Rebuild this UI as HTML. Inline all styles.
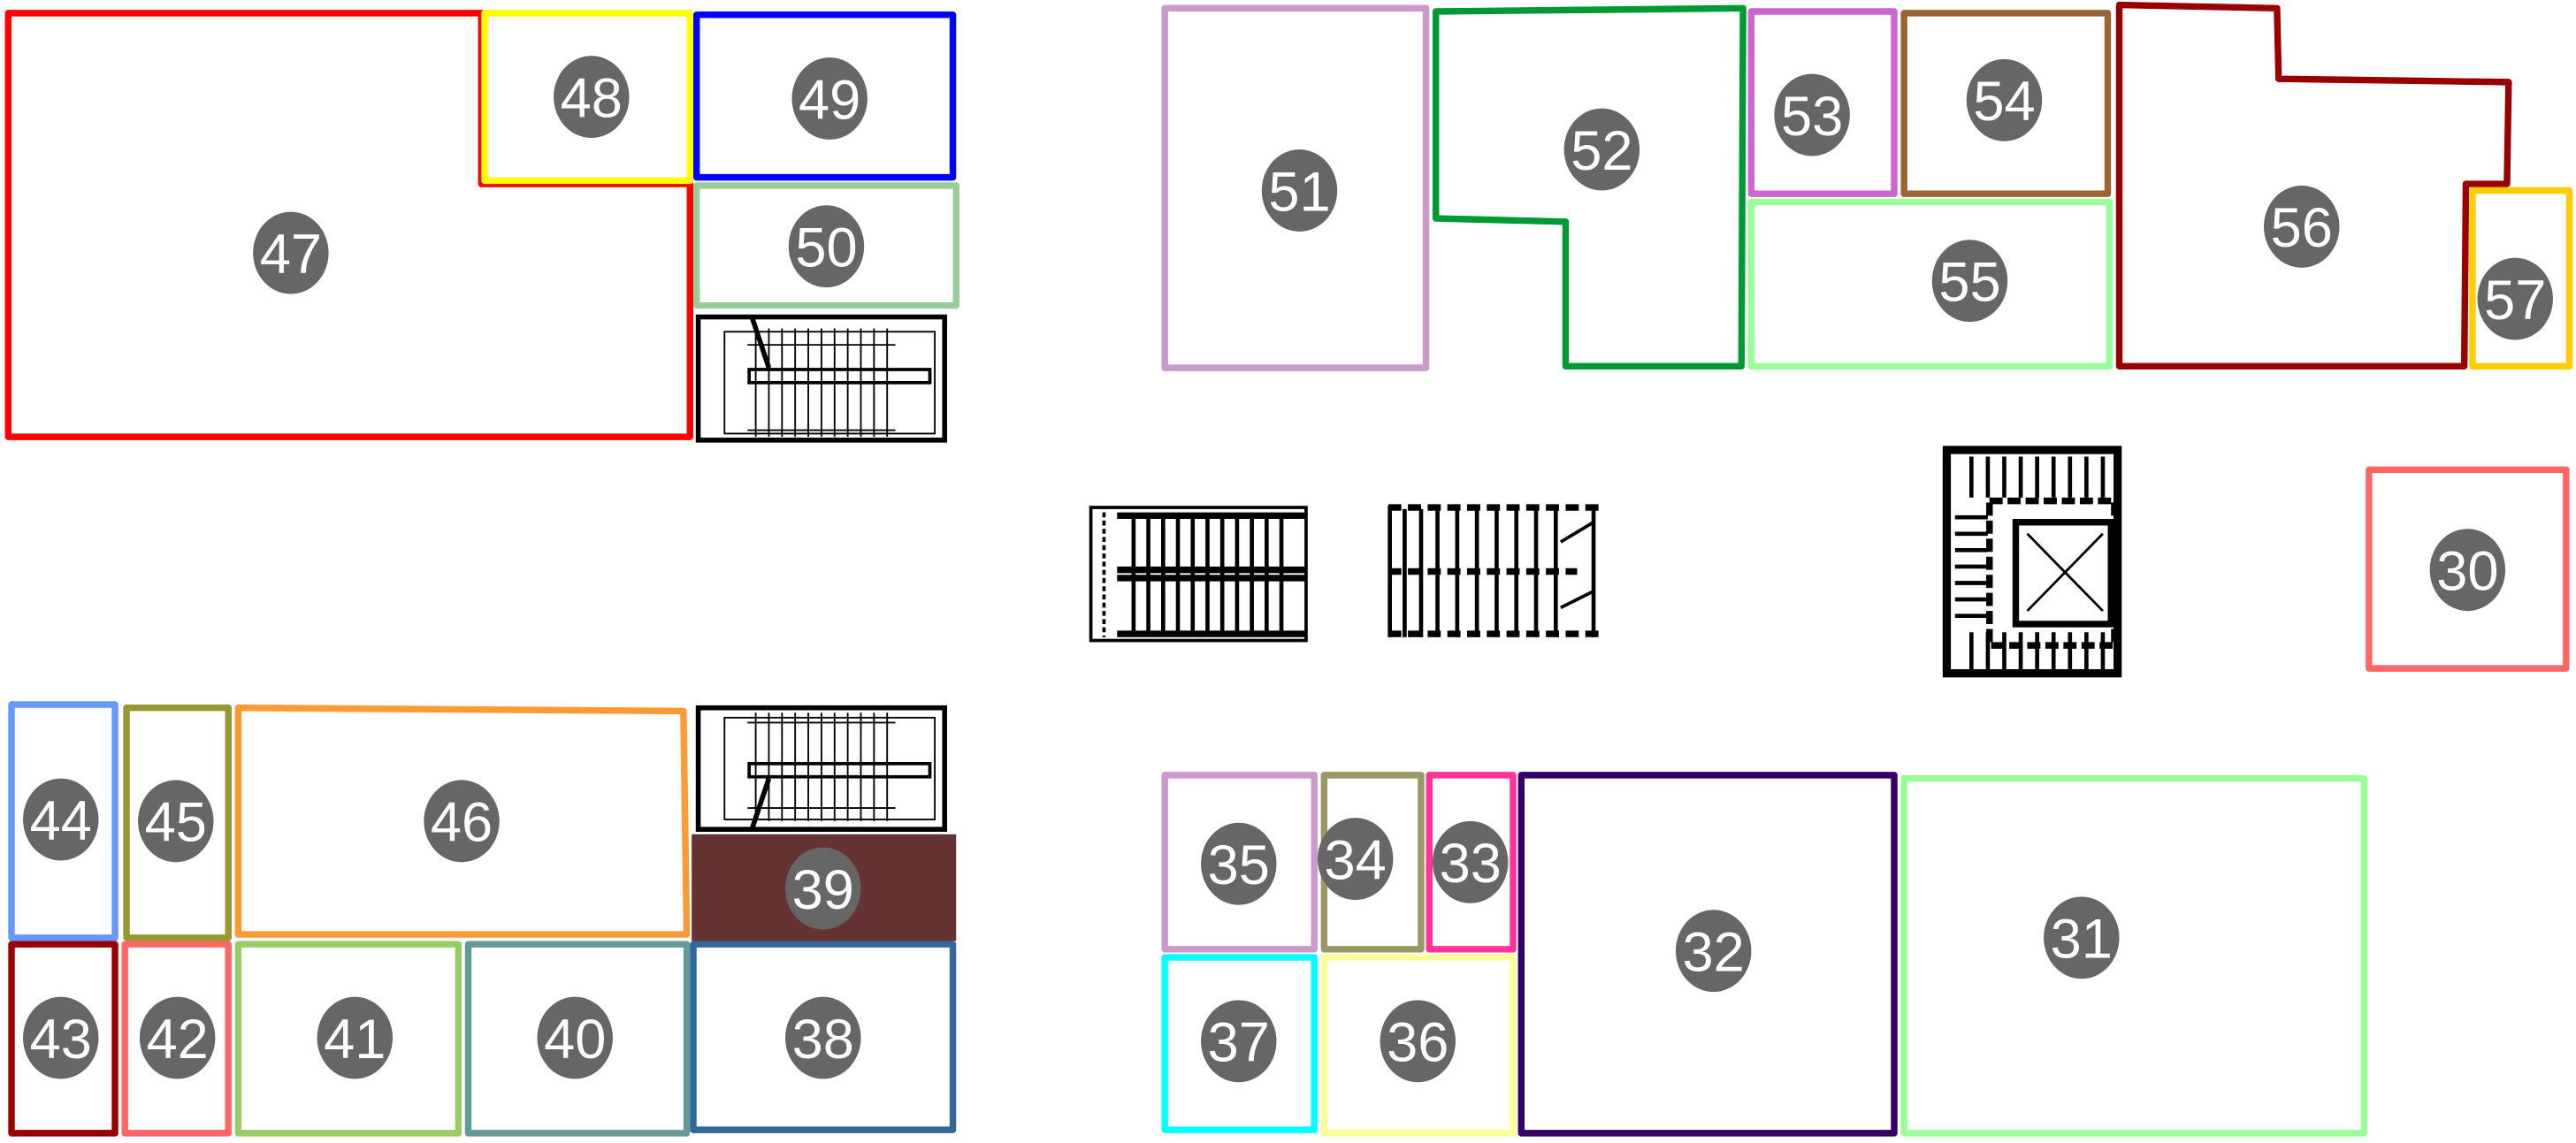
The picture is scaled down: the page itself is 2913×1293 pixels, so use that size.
<!DOCTYPE html>
<html><head><meta charset="utf-8"><style>
html,body{margin:0;padding:0;background:#fff;}
svg{display:block;}
text{font-family:"Liberation Sans",Arial,sans-serif;font-size:34px;fill:#fff;text-anchor:middle;dominant-baseline:central;}
.r{fill:none;stroke-width:4;stroke-linejoin:round;}
</style></head><body>
<svg width="2913" height="1293" viewBox="0 0 1568 696" xmlns="http://www.w3.org/2000/svg">
<defs>
<g id="c"><ellipse cx="0" cy="0" rx="23" ry="25" fill="#666"/></g>
</defs>
<polygon class="r" stroke="#ff0000" points="5,8 293,8 293,112 420,112 420,266 5,266"/>
<rect class="r" stroke="#ffff00" x="295" y="8" width="125" height="102"/>
<rect class="r" stroke="#0000ff" x="424" y="9" width="156" height="99"/>
<rect class="r" stroke="#99cc99" x="424" y="113" width="158" height="73"/>
<g stroke="#000" fill="none">
<rect x="425" y="193" width="150" height="75" stroke-width="3"/>
<rect x="441" y="202" width="128" height="62" stroke-width="1"/>
<line x1="458" y1="194" x2="468" y2="224" stroke-width="3"/>
<rect x="456" y="225" width="110" height="8" stroke-width="2"/>
<path d="M455 210 H545 M455 262 H545 M460 200 V266 M468 200 V266 M476 200 V266 M484 200 V266 M492 200 V266 M500 200 V266 M508 200 V266 M516 200 V266 M524 200 V266 M532 200 V266 M540 200 V266" stroke-width="1"/>
</g>
<rect class="r" stroke="#cc99cc" x="709" y="5" width="159" height="219"/>
<polygon class="r" stroke="#009933" points="874,7 1061,5 1060,223 953,223 953,135 874,133"/>
<rect class="r" stroke="#cc66cc" x="1066" y="7" width="87" height="111"/>
<rect class="r" stroke="#996633" x="1159" y="8" width="124" height="110"/>
<rect class="r" stroke="#99ff99" x="1066" y="123" width="218" height="100"/>
<polygon class="r" stroke="#990000" points="1290,3 1386,5 1387,48 1527,50 1526,112 1501,112 1500,223 1290,223"/>
<rect class="r" stroke="#ffcc00" x="1505" y="116" width="59" height="107"/>
<rect class="r" stroke="#ff6666" x="1442" y="286" width="120" height="121"/>
<g stroke="#000" fill="none">
<rect x="664" y="309" width="131" height="81" stroke-width="2"/>
<path d="M672 312 V388" stroke-width="2" stroke-dasharray="3 2"/>
<path d="M680 314 H795 M680 347 H795 M680 352 H795 M680 386 H795" stroke-width="4"/>
<path d="M690 314 V386 M699 314 V386 M708 314 V386 M717 314 V386 M726 314 V386 M735 314 V386 M744 314 V386 M753 314 V386 M762 314 V386 M771 314 V386 M780 314 V386" stroke-width="2.5"/>
<path d="M845 309 H973 M845 348 H960 M845 386 H973" stroke-width="4" stroke-dasharray="8 4"/>
<path d="M846 308 V388 M855 310 V388 M865 310 V388 M875 310 V388 M887 310 V388 M899 310 V388 M911 310 V388 M923 310 V388 M935 310 V388 M947 308 V388 M970 310 V388" stroke-width="2.5"/>
<path d="M950 330 L970 318 M950 370 L970 360" stroke-width="2"/>
<rect x="1185" y="274" width="104" height="136" stroke-width="5"/>
<rect x="1211" y="305" width="76" height="88" stroke-width="4" stroke-dasharray="8 3"/>
<rect x="1227" y="318" width="58" height="62" stroke-width="4"/>
<path d="M1234 325 L1280 372 M1280 325 L1234 372" stroke-width="1.5"/>
<path d="M1200 278 V303 M1210 278 V303 M1220 278 V303 M1230 278 V303 M1240 278 V303 M1250 278 V303 M1260 278 V303 M1270 278 V303 M1280 278 V303 M1200 385 V408 M1210 385 V408 M1220 385 V408 M1230 385 V408 M1240 385 V408 M1250 385 V408 M1260 385 V408 M1270 385 V408 M1280 385 V408 M1190 315 H1210 M1190 325 H1210 M1190 335 H1210 M1190 345 H1210 M1190 355 H1210 M1190 365 H1210 M1190 375 H1210" stroke-width="2.5"/>
</g>
<rect class="r" stroke="#6699ff" x="7" y="429" width="63" height="142"/>
<rect class="r" stroke="#999933" x="77" y="431" width="62" height="140"/>
<polygon class="r" stroke="#ff9933" points="145,431 416,433 418,569 145,569"/>
<g stroke="#000" fill="none">
<rect x="425" y="431" width="150" height="74" stroke-width="3"/>
<rect x="441" y="437" width="128" height="62" stroke-width="1"/>
<line x1="458" y1="504" x2="468" y2="474" stroke-width="3"/>
<rect x="456" y="465" width="110" height="8" stroke-width="2"/>
<path d="M455 440 H545 M455 492 H545 M460 434 V500 M468 434 V500 M476 434 V500 M484 434 V500 M492 434 V500 M500 434 V500 M508 434 V500 M516 434 V500 M524 434 V500 M532 434 V500 M540 434 V500" stroke-width="1"/>
</g>
<rect x="421" y="508" width="161" height="65" fill="#663333"/>
<rect class="r" stroke="#990000" x="7" y="575" width="63" height="115"/>
<rect class="r" stroke="#ff6666" x="76" y="575" width="63" height="115"/>
<rect class="r" stroke="#99cc66" x="145" y="575" width="134" height="115"/>
<rect class="r" stroke="#669999" x="285" y="575" width="133" height="115"/>
<rect class="r" stroke="#336699" x="422" y="575" width="158" height="113"/>
<rect class="r" stroke="#cc99cc" x="709" y="472" width="91" height="106"/>
<rect class="r" stroke="#999966" x="806" y="472" width="59" height="106"/>
<rect class="r" stroke="#ff3399" x="870" y="472" width="51" height="106"/>
<rect class="r" stroke="#00ffff" x="709" y="583" width="91" height="105"/>
<rect class="r" stroke="#ffff99" x="806" y="583" width="115" height="107"/>
<rect class="r" stroke="#330066" x="926" y="472" width="227" height="218"/>
<rect class="r" stroke="#99ff99" x="1159" y="474" width="280" height="216"/>
<g>
<use href="#c" x="177" y="154"/><text x="177" y="155">47</text>
<use href="#c" x="360" y="59"/><text x="360" y="60">48</text>
<use href="#c" x="505" y="60"/><text x="505" y="61">49</text>
<use href="#c" x="503" y="150"/><text x="503" y="151">50</text>
<use href="#c" x="791" y="116"/><text x="791" y="117">51</text>
<use href="#c" x="975" y="91"/><text x="975" y="92">52</text>
<use href="#c" x="1103" y="70"/><text x="1103" y="71">53</text>
<use href="#c" x="1220" y="61"/><text x="1220" y="62">54</text>
<use href="#c" x="1199" y="171"/><text x="1199" y="172">55</text>
<use href="#c" x="1401" y="138"/><text x="1401" y="139">56</text>
<use href="#c" x="1531" y="182"/><text x="1531" y="183">57</text>
<use href="#c" x="1502" y="347"/><text x="1502" y="348">30</text>
<use href="#c" x="37" y="499"/><text x="37" y="500">44</text>
<use href="#c" x="107" y="500"/><text x="107" y="501">45</text>
<use href="#c" x="281" y="500"/><text x="281" y="501">46</text>
<use href="#c" x="501" y="541"/><text x="501" y="542">39</text>
<use href="#c" x="37" y="632"/><text x="37" y="633">43</text>
<use href="#c" x="108" y="632"/><text x="108" y="633">42</text>
<use href="#c" x="216" y="632"/><text x="216" y="633">41</text>
<use href="#c" x="350" y="632"/><text x="350" y="633">40</text>
<use href="#c" x="501" y="632"/><text x="501" y="633">38</text>
<use href="#c" x="754" y="526"/><text x="754" y="527">35</text>
<use href="#c" x="825" y="523"/><text x="825" y="524">34</text>
<use href="#c" x="895" y="525"/><text x="895" y="526">33</text>
<use href="#c" x="754" y="634"/><text x="754" y="635">37</text>
<use href="#c" x="863" y="634"/><text x="863" y="635">36</text>
<use href="#c" x="1043" y="579"/><text x="1043" y="580">32</text>
<use href="#c" x="1267" y="571"/><text x="1267" y="572">31</text>
</g>
</svg>
</body></html>
